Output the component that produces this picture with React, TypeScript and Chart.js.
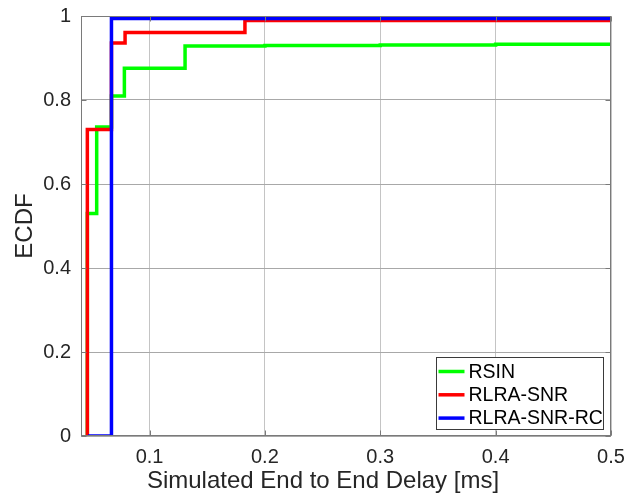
import React, { useEffect, useRef } from "react";
import { Chart, registerables } from "chart.js";

Chart.register(...registerables);

// ---- data ----
const seriesNames = ["RSIN", "RLRA-SNR", "RLRA-SNR-RC"];
const seriesColors = ["#00ff00", "#ff0000", "#0000ff"];

const rsinX = [0.0461, 0.0461, 0.0542, 0.067, 0.0782, 0.1308, 0.2, 0.3, 0.4, 0.5];
const rsinY = [0, 0.53, 0.736, 0.8095, 0.8755, 0.9286, 0.93, 0.931, 0.933, 0.934];

const snrX = [0.0461, 0.0461, 0.067, 0.0788, 0.1827, 0.5];
const snrY = [0, 0.73, 0.936, 0.961, 0.989, 0.99];

const rcX = [0.0467, 0.067, 0.5];
const rcY = [0, 0.994, 0.995];

const xMin = 0.0406;
const xMax = 0.5;
const xTicks = [0.1, 0.2, 0.3, 0.4, 0.5];
const yTicks = [0, 0.2, 0.4, 0.6, 0.8, 1];
const xTitle = "Simulated End to End Delay [ms]";
const yTitle = "ECDF";

const FONT = '"Liberation Sans", Arial, Helvetica, sans-serif';
const TEXT = "#262626";

const toPoints = (xs: number[], ys: number[]) => xs.map((x, i) => ({ x, y: ys[i] }));

const framePlugin = {
  id: "frame",
  afterDraw(chart: any) {
    const { ctx, chartArea: a, scales } = chart;
    ctx.save();
    const L = Math.round(a.left) + 0.5;
    const R = Math.round(a.right) - 0.5;
    const T = Math.round(a.top) + 0.5;
    const B = Math.round(a.bottom) - 0.5;
    ctx.strokeStyle = "#7a7a7a";
    ctx.lineWidth = 1;
    ctx.beginPath();
    xTicks.forEach((v) => {
      const px = Math.round(scales.x.getPixelForValue(v)) + 0.5;
      ctx.moveTo(px, B);
      ctx.lineTo(px, B - 5);
      ctx.moveTo(px, T);
      ctx.lineTo(px, T + 5);
    });
    yTicks.forEach((v) => {
      const py = Math.round(scales.y.getPixelForValue(v)) + 0.5;
      ctx.moveTo(L, py);
      ctx.lineTo(L + 5, py);
      ctx.moveTo(R, py);
      ctx.lineTo(R - 5, py);
    });
    ctx.stroke();
    ctx.strokeRect(L, T, R - L, B - T);

    // axis titles
    ctx.fillStyle = TEXT;
    ctx.font = `24px ${FONT}`;
    ctx.textAlign = "center";
    ctx.textBaseline = "alphabetic";
    ctx.fillText(xTitle, a.left + 0.4566 * (a.right - a.left), a.bottom + 52);
    ctx.save();
    ctx.translate(31.5, (a.top + a.bottom) / 2);
    ctx.rotate(-Math.PI / 2);
    ctx.fillText(yTitle, 0, 0);
    ctx.restore();

    // legend
    const lw = 167;
    const lh = 72;
    const lx = Math.round(a.right - 8 - lw) + 0.5;
    const ly = Math.round(a.bottom - 7 - lh) + 0.5;
    ctx.fillStyle = "#ffffff";
    ctx.fillRect(lx, ly, lw, lh);
    ctx.strokeStyle = "#3a3a3a";
    ctx.lineWidth = 1;
    ctx.strokeRect(lx, ly, lw, lh);
    ctx.font = `19.5px ${FONT}`;
    ctx.textAlign = "left";
    ctx.textBaseline = "middle";
    chart.data.datasets.forEach((ds: any, i: number) => {
      const cy = ly + 14 + i * 23.3;
      ctx.strokeStyle = ds.borderColor;
      ctx.lineWidth = 3.5;
      ctx.beginPath();
      ctx.moveTo(lx + 2, cy);
      ctx.lineTo(lx + 28, cy);
      ctx.stroke();
      ctx.fillStyle = "#000000";
      ctx.fillText(ds.label, lx + 32, cy + 1);
    });
    ctx.restore();
  },
};

export default function App() {
  const ref = useRef<HTMLCanvasElement | null>(null);
  useEffect(() => {
    if (!ref.current) return;
    const xs = [rsinX, snrX, rcX];
    const ys = [rsinY, snrY, rcY];
    const chart = new Chart(ref.current, {
      type: "line",
      data: {
        datasets: seriesNames.map((name, i) => ({
          label: name,
          data: toPoints(xs[i], ys[i]),
          borderColor: seriesColors[i],
          backgroundColor: seriesColors[i],
          borderWidth: 3.5,
          pointRadius: 0,
          stepped: "before" as const,
          fill: false,
          order: 3 - i,
        })),
      },
      options: {
        animation: false,
        responsive: false,
        devicePixelRatio: 1,
        layout: { padding: { top: 16, right: 13, bottom: 0, left: 0 } },
        plugins: { legend: { display: false }, tooltip: { enabled: false } },
        scales: {
          x: {
            type: "linear",
            min: xMin,
            max: xMax,
            afterBuildTicks: (s: any) => {
              s.ticks = xTicks.map((v) => ({ value: v }));
            },
            afterFit: (s: any) => {
              s.height = 62;
              s.paddingLeft = 0;
              s.paddingRight = 0;
            },
            grid: { color: "#c4c4c4", drawTicks: false },
            border: { display: false },
            ticks: {
              padding: 9,
              color: TEXT,
              font: { family: FONT, size: 20 },
              maxRotation: 0,
              callback: (v: any) => String(v),
            },
          },
          y: {
            type: "linear",
            min: 0,
            max: 1,
            afterBuildTicks: (s: any) => {
              s.ticks = yTicks.map((v) => ({ value: v }));
            },
            afterFit: (s: any) => {
              s.width = 81;
              s.paddingTop = 0;
              s.paddingBottom = 0;
            },
            grid: { color: "#a8a8a8", drawTicks: false },
            border: { display: false },
            ticks: {
              padding: 10,
              color: TEXT,
              font: { family: FONT, size: 20 },
              callback: (v: any) => String(v),
            },
          },
        },
      },
      plugins: [framePlugin],
    });
    return () => chart.destroy();
  }, []);
  return (
    <div style={{ position: "fixed", left: 0, top: 0, width: 624, height: 498, background: "#fff" }}>
      <canvas ref={ref} width={624} height={498} />
    </div>
  );
}
